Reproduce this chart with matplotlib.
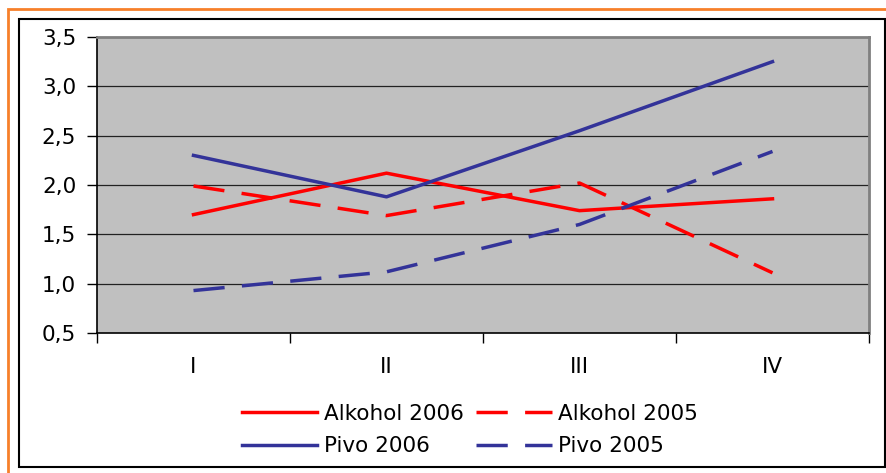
import matplotlib.pyplot as plt
import matplotlib.patches as mpatches
import numpy as np

categories = ['I', 'II', 'III', 'IV']
alkohol_2006 = [1.70, 2.12, 1.74, 1.86]
alkohol_2005 = [1.99, 1.69, 2.02, 1.11]
pivo_2006 = [2.30, 1.88, 2.55, 3.25]
pivo_2005 = [0.93, 1.12, 1.60, 2.34]

W, H = 886, 473
fig = plt.figure(figsize=(W / 100, H / 100), dpi=100)
plt.rcParams['font.family'] = 'DejaVu Sans'

# outer frames (orange + black)
fig.patches.append(mpatches.Rectangle((8 / W, 1 - 480 / H), 900 / W, 471 / H,
                                      transform=fig.transFigure, fill=False,
                                      edgecolor='#F7802A', linewidth=2))
fig.patches.append(mpatches.Rectangle((19 / W, 1 - 467 / H), 866 / W, 448 / H,
                                      transform=fig.transFigure, fill=False,
                                      edgecolor='black', linewidth=1.5))

ax = fig.add_axes([97 / W, 1 - 333 / H, 772 / W, 296 / H])
ax.set_facecolor('#C0C0C0')

x = np.arange(len(categories))
red = '#FF0000'
blue = '#333399'
lw = 2.5
dash = (9, 5)
ax.plot(x, alkohol_2006, color=red, lw=lw, label='Alkohol 2006')
ax.plot(x, alkohol_2005, color=red, lw=lw, dashes=dash, label='Alkohol 2005')
ax.plot(x, pivo_2006, color=blue, lw=lw, label='Pivo 2006')
ax.plot(x, pivo_2005, color=blue, lw=lw, dashes=dash, label='Pivo 2005')

ax.set_xlim(-0.5, len(categories) - 0.5)
ax.set_ylim(0.5, 3.5)
yt = np.arange(0.5, 3.51, 0.5)
ax.set_yticks(yt)
ax.set_yticklabels([f'{v:.1f}'.replace('.', ',') for v in yt], fontsize=15.5)
ax.set_xticks(x)
ax.set_xticklabels(categories, fontsize=15.5)
ax.set_xticks(np.arange(-0.5, len(categories)), minor=True)
ax.tick_params(axis='x', which='major', length=0, pad=17)
ax.tick_params(axis='x', which='minor', length=7, width=1, direction='out')
ax.tick_params(axis='y', length=7, width=1, direction='out', pad=8)
for v in yt[1:-1]:
    ax.axhline(v, color='#222222', lw=0.9, zorder=1)

for s in ['top', 'right']:
    ax.spines[s].set_color('#808080')
    ax.spines[s].set_linewidth(2)
for s in ['left', 'bottom']:
    ax.spines[s].set_color('black')
    ax.spines[s].set_linewidth(1.2)

handles, labels = ax.get_legend_handles_labels()
order = [0, 2, 1, 3]
fig.legend([handles[i] for i in order], [labels[i] for i in order],
           loc='center', bbox_to_anchor=(470 / W, 1 - 430 / H), ncol=2,
           frameon=False, fontsize=15.5, handlelength=3.5, handletextpad=0.3,
           columnspacing=0.6, labelspacing=0.6)

fig.savefig('out.png', dpi=100)
